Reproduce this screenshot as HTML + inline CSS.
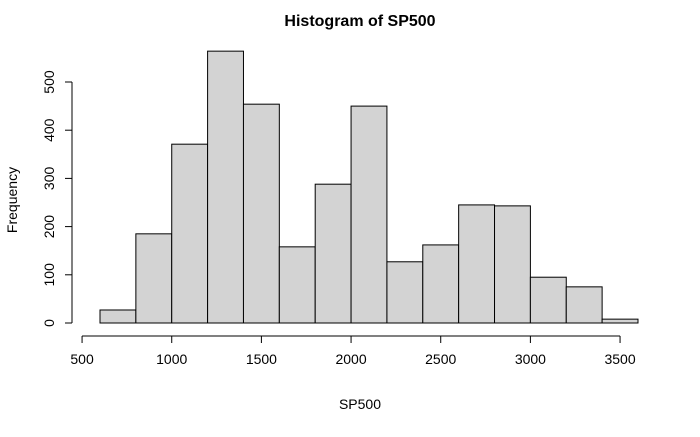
<!DOCTYPE html>
<html><head><meta charset="utf-8"><style>
body{margin:0;background:#fff;}
svg text{font-family:"Liberation Sans",Arial,sans-serif;fill:#000;}
</style></head><body>
<svg id="chart" width="700" height="432" xmlns="http://www.w3.org/2000/svg">
<text x="360" y="26" font-size="16" font-weight="bold" text-anchor="middle">Histogram of SP500</text>
<text x="360" y="409" font-size="14" text-anchor="middle">SP500</text>
<text x="17" y="200" font-size="14" text-anchor="middle" transform="rotate(-90 17 200)">Frequency</text>
<g id="bars"></g><g id="xaxis"></g><g id="yaxis"></g>
</svg>
<script>
const binStarts=[600,800,1000,1200,1400,1600,1800,2000,2200,2400,2600,2800,3000,3200,3400];
const binWidth=200;
const counts=[27,185,371,564,454,158,288,450,127,162,245,243,95,75,8];
const xTicks=[500,1000,1500,2000,2500,3000,3500];
const yTicks=[0,100,200,300,400,500];
const NS="http://www.w3.org/2000/svg";
const x=v=>100+(v-600)*0.17933;
const y=v=>323-v*0.482;
function mk(t,a,p){const e=document.createElementNS(NS,t);for(const k in a)e.setAttribute(k,a[k]);p.appendChild(e);return e;}
const bars=document.getElementById('bars');
binStarts.forEach((s,i)=>{
 const r=mk('rect',{x:x(s),y:y(counts[i]),width:x(s+binWidth)-x(s),height:y(0)-y(counts[i]),fill:'#d3d3d3',stroke:'#000','stroke-width':1},bars);
 
 
});
const xa=document.getElementById('xaxis');
const xl=mk('line',{x1:x(xTicks[0]),x2:x(xTicks[xTicks.length-1]),y1:336,y2:336,stroke:'#000'},xa);


xTicks.forEach(t=>{
 mk('line',{x1:x(t),x2:x(t),y1:336,y2:343,stroke:'#000'},xa);
 const tx=mk('text',{x:x(t),y:364,'font-size':14,'text-anchor':'middle'},xa);
 tx.textContent=t;
 
 
});
const ya=document.getElementById('yaxis');
const yl=mk('line',{x1:72,x2:72,y1:y(yTicks[0]),y2:y(yTicks[yTicks.length-1]),stroke:'#000'},ya);


yTicks.forEach(t=>{
 mk('line',{x1:65,x2:72,y1:y(t),y2:y(t),stroke:'#000'},ya);
 const tx=mk('text',{x:54,y:y(t),'font-size':14,'text-anchor':'middle',transform:'rotate(-90 54 '+y(t)+')'},ya);
 tx.textContent=t;
 
 
});
</script>
</body></html>
